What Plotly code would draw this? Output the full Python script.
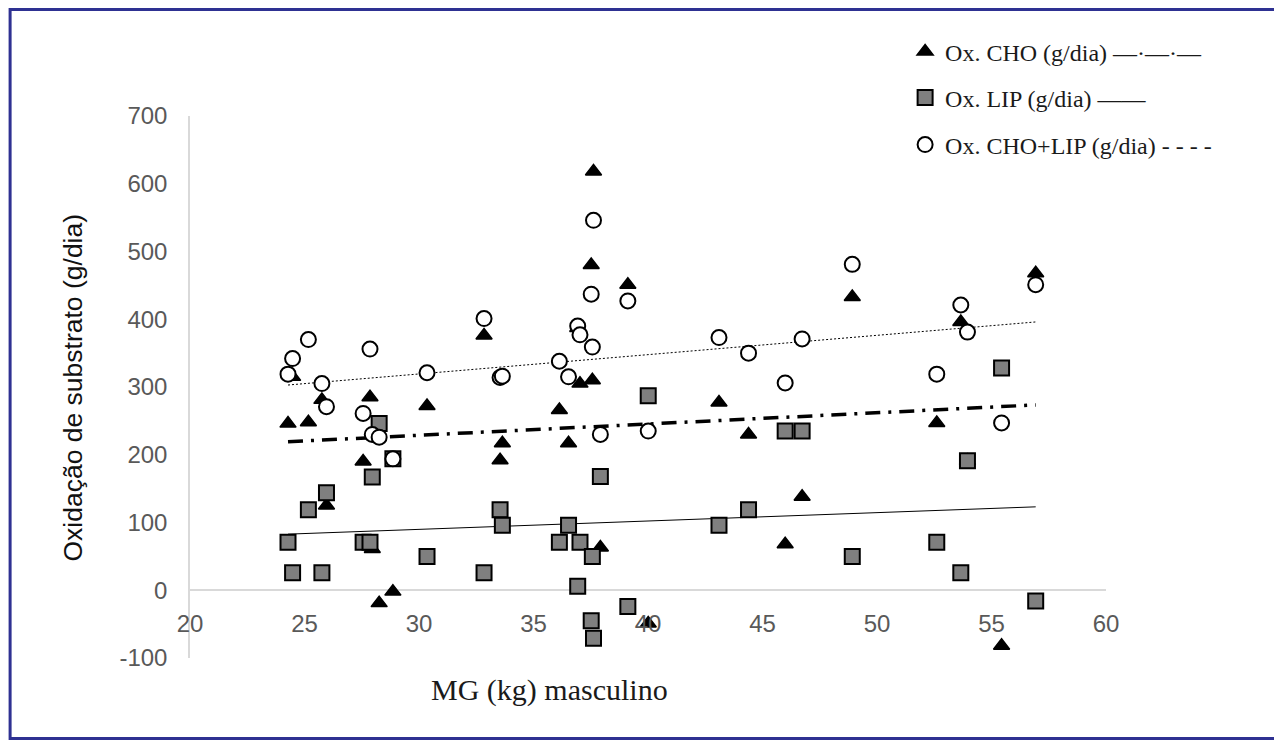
import numpy as np
import plotly.graph_objects as go

# ---- data ----
mg = [24.28, 24.48, 25.17, 25.76, 25.96, 27.56, 27.86, 27.96, 28.26, 28.86,
      30.35, 32.84, 33.54, 33.64, 36.13, 36.53, 36.93, 37.03, 37.52, 37.57,
      37.62, 37.92, 39.12, 40.01, 43.10, 44.39, 45.99, 46.73, 48.92, 52.61,
      53.66, 53.95, 55.44, 56.93]
ox_cho = [246, 315, 248, 281, 125, 190, 285, 61, -19, -2,
          272, 376, 192, 217, 266, 217, 387, 305, 480, 310,
          618, 63, 451, -49, 277, 230, 68, 138, 433, 247,
          396, 191, -82, 468]
ox_lip = [71, 26, 119, 26, 144, 71, 71, 167, 246, 194,
          50, 26, 119, 96, 71, 96, 6, 71, -45, 50,
          -71, 168, -24, 287, 96, 119, 235, 235, 50, 71,
          26, 191, 328, -16]
ox_tot = [319, 342, 370, 305, 271, 261, 356, 230, 226, 194,
          321, 401, 314, 316, 338, 315, 390, 377, 437, 359,
          546, 230, 427, 235, 373, 350, 306, 371, 481, 319,
          421, 381, 247, 451]

names = ["Ox. CHO (g/dia) \u2014\u00b7\u2014\u00b7\u2014",
         "Ox. LIP (g/dia) \u2014\u2014",
         "Ox. CHO+LIP (g/dia) - - - -"]

x_ticks = [20, 25, 30, 35, 40, 45, 50, 55, 60]
y_ticks = [-100, 0, 100, 200, 300, 400, 500, 600, 700]
y_ticktext = ["-100", "0", "100", "200", "300", "400", "500", "600", "700"]

SANS = "Liberation Sans, Arial, sans-serif"
SERIF = "Liberation Serif, Times New Roman, serif"

# figure geometry; the page body adds an 8px offset
OFF = 8
W, H = 1274, 734
L, R, T, B = 181.5, 176, 108, 84
PW, PH = W - L - R, H - T - B
def px(xpage):
    return (xpage - OFF - L) / PW
def py(ypage):
    return (H - B - (ypage - OFF)) / PH

fig = go.Figure()

# trend lines (least squares fits of each series)
xfit = np.array([min(mg), max(mg)])
def fitline(yv):
    a, b = np.polyfit(mg, yv, 1)
    return a * xfit + b

fig.add_trace(go.Scatter(x=xfit, y=fitline(ox_cho), mode="lines", showlegend=False,
                         line=dict(color="black", width=3.5, dash="15px,8px,3px,8px"),
                         hoverinfo="skip"))
fig.add_trace(go.Scatter(x=xfit, y=fitline(ox_lip), mode="lines", showlegend=False,
                         line=dict(color="black", width=1), hoverinfo="skip"))
fig.add_trace(go.Scatter(x=xfit, y=fitline(ox_tot), mode="lines", showlegend=False,
                         line=dict(color="black", width=1, dash="2px,2px"),
                         hoverinfo="skip"))

# scatter series
fig.add_trace(go.Scatter(x=mg, y=ox_cho, mode="markers", name=names[0], legend="legend",
                         marker=dict(symbol="triangle-up", size=14, color="black",
                                     line=dict(color="black", width=1.5))))
fig.add_trace(go.Scatter(x=mg, y=ox_lip, mode="markers", name=names[1], legend="legend2",
                         marker=dict(symbol="square", size=15, color="#7f7f7f",
                                     line=dict(color="black", width=2))))
fig.add_trace(go.Scatter(x=mg, y=ox_tot, mode="markers", name=names[2], legend="legend3",
                         marker=dict(symbol="circle", size=15, color="white",
                                     line=dict(color="black", width=2))))

leg_common = dict(xanchor="left", yanchor="middle", bgcolor="rgba(0,0,0,0)",
                  font=dict(family=SERIF, size=24, color="#1a1a1a"), borderwidth=0)

fig.update_layout(
    width=W, height=H, autosize=False,
    margin=dict(l=L, r=R, t=T, b=B, autoexpand=False),
    paper_bgcolor="white", plot_bgcolor="white",
    legend=dict(x=px(905), y=py(52), **leg_common),
    legend2=dict(x=px(905), y=py(98), **leg_common),
    legend3=dict(x=px(905), y=py(145), **leg_common),
    xaxis=dict(range=[20, 60], tickvals=x_ticks, showgrid=False, zeroline=False,
               showline=False, ticks="", anchor="free", position=0.095,
               tickfont=dict(family=SANS, size=24, color="#595959")),
    yaxis=dict(range=[-100, 700], tickvals=y_ticks, ticktext=y_ticktext, showgrid=False,
               zeroline=True, zerolinecolor="#d9d9d9", zerolinewidth=1.5,
               showline=True, linecolor="#d9d9d9", linewidth=1.5,
               ticks="outside", ticklen=16, tickcolor="rgba(0,0,0,0)",
               tickfont=dict(family=SANS, size=24, color="#595959")),
    annotations=[
        dict(text="Oxida\u00e7\u00e3o de substrato (g/dia)", textangle=-90,
             xref="paper", yref="paper", x=px(72), y=py(388),
             xanchor="center", yanchor="middle", showarrow=False,
             font=dict(family=SANS, size=26.5, color="#111111")),
        dict(text="MG (kg) masculino", xref="paper", yref="paper",
             x=px(549), y=py(690), xanchor="center", yanchor="middle",
             showarrow=False, font=dict(family=SERIF, size=30, color="#1a1a1a")),
    ],
    shapes=[dict(type="rect", xref="paper", yref="paper",
                 x0=px(9.5), x1=px(1279.5), y0=py(738.5), y1=py(9.5),
                 line=dict(color="#2e3192", width=3), fillcolor="rgba(0,0,0,0)",
                 layer="above")],
)

fig.write_html("out.html")
